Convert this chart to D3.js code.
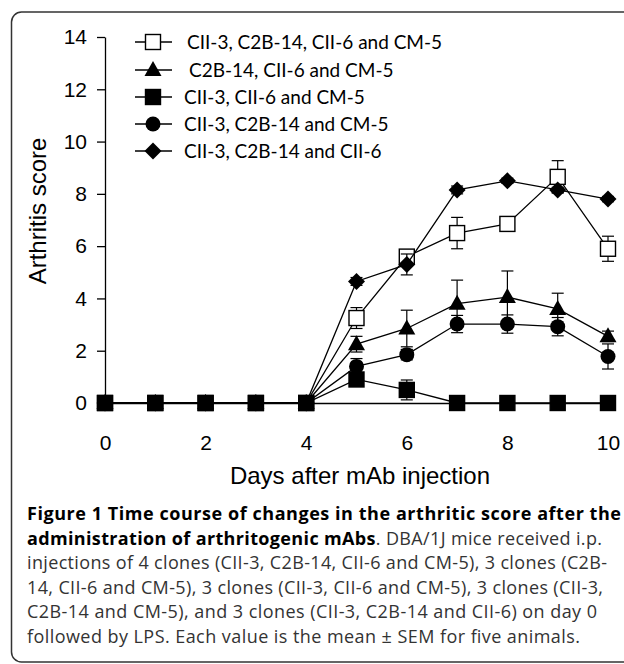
<!DOCTYPE html>
<html>
<head>
<meta charset="utf-8">
<title>Arthritis score</title>
<script src="https://d3js.org/d3.v7.min.js"></script>
<style>
  body { margin: 0; background: #fff; }
  .axis text { font-family: "Liberation Sans", Arial, sans-serif; font-size: 21px; fill: #000; }
  .axis path, .axis line { stroke: #000; stroke-width: 1.3; }
  .legend text { font-family: Lato, "Open Sans", sans-serif; font-size: 19px; fill: #000; }
  .caption { font-family: "Open Sans", sans-serif; font-size: 18px; fill: #333; }
</style>
</head>
<body>
<script>
// data
var days = [0, 1, 2, 3, 4, 5, 6, 7, 8, 9, 10];
var names = ["CII-3, C2B-14, CII-6 and CM-5", "C2B-14, CII-6 and CM-5",
             "CII-3, CII-6 and CM-5", "CII-3, C2B-14 and CM-5", "CII-3, C2B-14 and CII-6"];
var symbols = ["openSquare", "triangle", "square", "circle", "diamond"];

var fourClones   = [0, 0, 0, 0, 0, 3.25, 5.6, 6.5, 6.85, 8.65, 5.9];
var fourClonesE  = [0, 0, 0, 0, 0, 0.4, 0.25, 0.6, 0.15, 0.62, 0.48];
var noCII3       = [0, 0, 0, 0, 0, 2.25, 2.85, 3.8, 4.05, 3.6, 2.55];
var noCII3E      = [0, 0, 0, 0, 0, 0.3, 0.7, 0.9, 1.0, 0.6, 0.2];
var noC2B14      = [0, 0, 0, 0, 0, 0.9, 0.5, 0, 0, 0, 0];
var noC2B14E     = [0, 0, 0, 0, 0, 0.2, 0.38, 0, 0, 0, 0];
var noCII6       = [0, 0, 0, 0, 0, 1.4, 1.85, 3.02, 3.02, 2.92, 1.78];
var noCII6E      = [0, 0, 0, 0, 0, 0.3, 0.2, 0.33, 0.35, 0.35, 0.48];
var noCM5        = [0, 0, 0, 0, 0, 4.65, 5.3, 8.15, 8.5, 8.15, 7.8];
var noCM5E       = [0, 0, 0, 0, 0, 0.15, 0.4, 0.15, 0.1, 0.1, 0.1];

var seriesValues = [fourClones, noCII3, noC2B14, noCII6, noCM5];
var seriesErrors = [fourClonesE, noCII3E, noC2B14E, noCII6E, noCM5E];
var drawOrder = [0, 1, 3, 4, 2];

var yTicks = [0, 2, 4, 6, 8, 10, 12, 14];
var xTicks = [0, 2, 4, 6, 8, 10];

var captionLines = [
  [{b: true, t: "Figure 1 Time course of changes in the arthritic score after the"}],
  [{b: true, t: "administration of arthritogenic mAbs"}, {b: false, t: ". DBA/1J mice received i.p."}],
  [{b: false, t: "injections of 4 clones (CII-3, C2B-14, CII-6 and CM-5), 3 clones (C2B-"}],
  [{b: false, t: "14, CII-6 and CM-5), 3 clones (CII-3, CII-6 and CM-5), 3 clones (CII-3,"}],
  [{b: false, t: "C2B-14 and CM-5), and 3 clones (CII-3, C2B-14 and CII-6) on day 0"}],
  [{b: false, t: "followed by LPS. Each value is the mean \u00b1 SEM for five animals."}]
];
// measured line widths in the figure
var captionWidths = [594, 575, 580, 576, 570, 553];

var W = 624, H = 664;
var svg = d3.select("body").append("svg").attr("width", W).attr("height", H);

// rounded frame (right side runs off the picture)
svg.append("rect")
   .attr("x", 11.5).attr("y", 12).attr("width", 700).attr("height", 650)
   .attr("rx", 10).attr("ry", 10)
   .attr("fill", "none").attr("stroke", "#333").attr("stroke-width", 1.5);

var x = d3.scaleLinear().domain([0, 10]).range([105, 608]);
var y = d3.scaleLinear().domain([0, 14]).range([403, 37]);

// y axis
svg.append("g").attr("class", "axis")
   .attr("transform", "translate(105,0)")
   .call(d3.axisLeft(y).tickValues(yTicks).tickSize(8).tickSizeOuter(0).tickPadding(10));

// x axis (line hidden under the zero values, no ticks)
var xa = svg.append("g").attr("class", "axis")
   .attr("transform", "translate(0,403)")
   .call(d3.axisBottom(x).tickValues(xTicks).tickSize(0));
xa.selectAll("text").attr("y", 47).attr("dy", 0);

svg.append("text")
   .attr("transform", "translate(46,211) rotate(-90)")
   .attr("text-anchor", "middle")
   .style("font-family", "'Liberation Sans', Arial, sans-serif")
   .style("font-size", "24px")
   .text("Arthritis score");

svg.append("text")
   .attr("x", 360).attr("y", 484)
   .attr("text-anchor", "middle")
   .style("font-family", "'Liberation Sans', Arial, sans-serif")
   .style("font-size", "24px")
   .text("Days after mAb injection");

// marker shapes
function marker(g, type, cx, cy) {
  if (type === "openSquare" || type === "square") {
    g.append("rect").attr("x", cx - 7.5).attr("y", cy - 7.5).attr("width", 15).attr("height", 15)
     .attr("fill", type === "square" ? "#000" : "#fff").attr("stroke", "#000").attr("stroke-width", 1.4);
  } else if (type === "circle") {
    g.append("circle").attr("cx", cx).attr("cy", cy).attr("r", 7.5).attr("fill", "#000");
  } else if (type === "triangle") {
    g.append("path").attr("d", "M" + cx + "," + (cy - 9) + "L" + (cx + 8.5) + "," + (cy + 6) + "L" + (cx - 8.5) + "," + (cy + 6) + "Z")
     .attr("fill", "#000");
  } else if (type === "diamond") {
    g.append("path").attr("d", "M" + cx + "," + (cy - 8.5) + "L" + (cx + 8.5) + "," + cy + "L" + cx + "," + (cy + 8.5) + "L" + (cx - 8.5) + "," + cy + "Z")
     .attr("fill", "#000");
  }
}

var line = d3.line().x(function(d) { return x(d[0]); }).y(function(d) { return y(d[1]); });

// error bars first, then lines, then markers
drawOrder.forEach(function(s) {
  var g = svg.append("g");
  var vals = seriesValues[s], errs = seriesErrors[s];
  days.forEach(function(d, i) {
    if (errs[i] > 0) {
      g.append("line").attr("x1", x(d)).attr("x2", x(d))
       .attr("y1", y(vals[i] + errs[i])).attr("y2", y(vals[i] - errs[i]))
       .attr("stroke", "#000").attr("stroke-width", 1.2);
      [vals[i] + errs[i], vals[i] - errs[i]].forEach(function(v) {
        g.append("line").attr("x1", x(d) - 6).attr("x2", x(d) + 6)
         .attr("y1", y(v)).attr("y2", y(v))
         .attr("stroke", "#000").attr("stroke-width", 1.2);
      });
    }
  });
  g.append("path").datum(days.map(function(d, i) { return [d, vals[i]]; }))
   .attr("d", line).attr("fill", "none").attr("stroke", "#000").attr("stroke-width", 1.3);
  days.forEach(function(d, i) { marker(g, symbols[s], x(d), y(vals[i])); });
});

// legend
var legendY = [42, 70, 97, 124, 151];
var legendTextX = [187, 189, 184, 184, 184];
var lg = svg.append("g").attr("class", "legend");
names.forEach(function(n, i) {
  lg.append("line").attr("x1", 135).attr("x2", 172).attr("y1", legendY[i]).attr("y2", legendY[i])
    .attr("stroke", "#000").attr("stroke-width", 1.3);
  marker(lg, symbols[i], 153, legendY[i]);
  lg.append("text").attr("x", legendTextX[i]).attr("y", legendY[i] + 7).text(n);
});

// caption
var capY = [520, 544.5, 569, 593.5, 618, 642.5];
captionLines.forEach(function(parts, i) {
  var t = svg.append("text").attr("class", "caption").attr("x", 27).attr("y", capY[i])
     .attr("textLength", captionWidths[i]).attr("lengthAdjust", "spacing");
  parts.forEach(function(p) {
    t.append("tspan").text(p.t)
     .style("font-weight", p.b ? "bold" : "normal")
     .style("fill", p.b ? "#000" : "#333");
  });
});
</script>
</body>
</html>
